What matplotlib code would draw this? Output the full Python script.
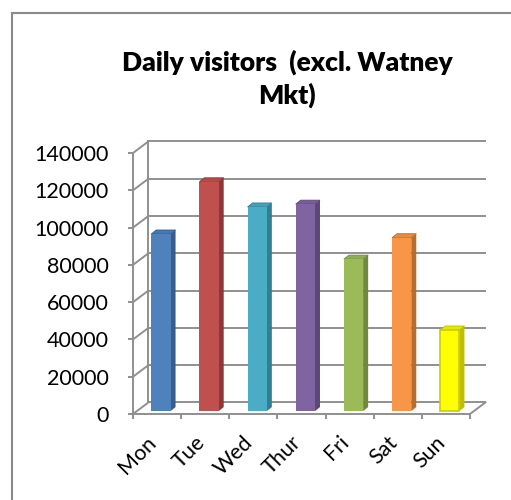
import matplotlib
matplotlib.use("Agg")
import matplotlib.pyplot as plt
from matplotlib.patches import Polygon
from matplotlib.lines import Line2D

# ---------------------------------------------------------------- data
days = ["Mon", "Tue", "Wed", "Thur", "Fri", "Sat", "Sun"]
visitors = [95000, 123000, 109500, 111000, 81500, 93000, 43500]
y_ticks = [0, 20000, 40000, 60000, 80000, 100000, 120000, 140000]
title = "Daily visitors  (excl. Watney\nMkt)"

front = ["#4F81BD", "#C0504D", "#4BACC6", "#8064A2", "#9BBB59", "#F79646", "#FFFF00"]
side = ["#385D8A", "#8C3836", "#357D91", "#5C4776", "#71893F", "#B66D31", "#BFBF00"]
top = ["#4677B0", "#B44A47", "#44A2BA", "#765C98", "#90AF52", "#E88A40", "#E6E600"]

plt.rcParams["font.family"] = ["Lato", "DejaVu Sans"]

W, H = 511, 500
fig = plt.figure(figsize=(W / 100, H / 100), dpi=100)

# outer chart frame (cut off at right/bottom)
fc = "#8a8a8a"
fig.add_artist(Line2D([12 / W, 1], [1 - 13 / H, 1 - 13 / H], color=fc, lw=1.5))
fig.add_artist(Line2D([12 / W, 12 / W], [0, 1 - 13 / H], color=fc, lw=1.5))

fig.text(287 / W, 1 - 79 / H, title, ha="center", va="center",
         fontsize=19, fontweight="heavy", linespacing=1.35)

# front plane of the 3d box
ax = fig.add_axes([133 / W, (H - 414) / H, (470 - 133) / W, (414 - 153) / H])
n = len(days)
ax.set_xlim(-0.5, n - 0.5)
ax.set_ylim(0, 140000)
for s in ax.spines.values():
    s.set_visible(False)

DX, DY = 0.32, 6200          # depth of the box (data units)
gc = "#8f8f8f"
glw = 1.4
x0, x1 = -0.5, n - 0.5

# walls, grid, floor
for v in y_ticks:
    ax.plot([x0 + DX, x1 + DX], [v + DY, v + DY], color=gc, lw=glw, zorder=1, clip_on=False)
    ax.plot([x0, x0 + DX], [v, v + DY], color=gc, lw=glw, zorder=1, clip_on=False)
ax.plot([x0 + DX, x0 + DX], [DY, 140000 + DY], color=gc, lw=glw, zorder=1, clip_on=False)
ax.plot([x0, x0], [0, 140000], color=gc, lw=glw, zorder=1, clip_on=False)
ax.plot([x0, x1], [0, 0], color=gc, lw=glw, zorder=1, clip_on=False)
ax.plot([x1, x1 + DX], [0, DY], color=gc, lw=glw, zorder=1, clip_on=False)

# bars
f = 0.25
bw = 0.4
sx, sy = 0.104, 2150
xs = [i + f * DX for i in range(n)]
ax.bar(xs, visitors, width=bw, bottom=f * DY, color=front, zorder=3,
       edgecolor=["none"] * (n - 1) + ["#CCCC00"], linewidth=1.2, clip_on=False)
for i, v in enumerate(visitors):
    xr = xs[i] + bw / 2
    xl = xs[i] - bw / 2
    b = f * DY
    t = b + v
    ax.add_patch(Polygon([(xr, b), (xr + sx, b + sy), (xr + sx, t + sy), (xr, t)],
                         closed=True, facecolor=side[i], edgecolor="none", zorder=2.9))
    ax.add_patch(Polygon([(xl, t), (xl + sx, t + sy), (xr + sx, t + sy), (xr, t)],
                         closed=True, facecolor=top[i], edgecolor=side[i], lw=0.6, zorder=2.9))

# ticks
ax.set_yticks(y_ticks)
ax.set_yticklabels([str(v) for v in y_ticks])
ax.tick_params(axis="y", length=3.6, width=glw, color=gc, pad=14, labelsize=15.5)
ax.set_xticks([i + 0.07 for i in range(n)])
ax.set_xticklabels(days, rotation=45, ha="right", va="top")
ax.tick_params(axis="x", which="major", length=0, pad=13, labelsize=15.5)
ax.set_xticks([i - 0.5 for i in range(n + 1)], minor=True)
ax.tick_params(axis="x", which="minor", length=3.6, width=glw, color=gc)

fig.savefig("out.png", dpi=100)
